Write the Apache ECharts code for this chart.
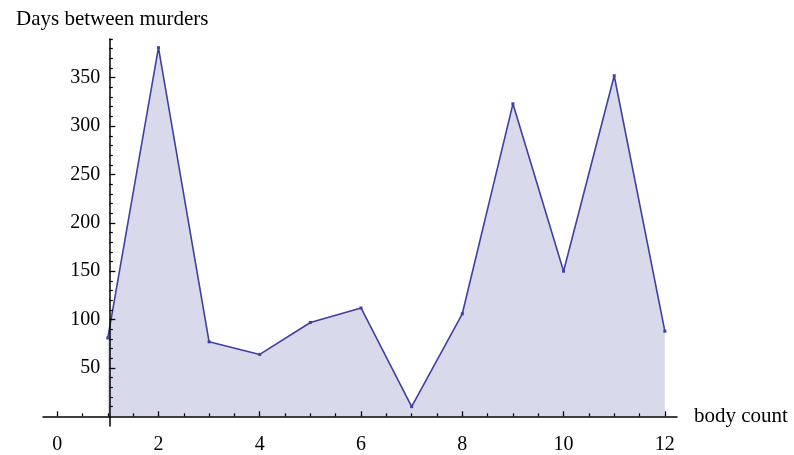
<!DOCTYPE html>
<html>
<head>
<meta charset="utf-8">
<script src="https://cdn.jsdelivr.net/npm/echarts@6/dist/echarts.min.js"></script>
<style>html,body{margin:0;padding:0;background:#fff}#c{width:794px;height:455px}</style>
</head>
<body>
<div id="c"></div>
<script>
var bodyCount = [1, 2, 3, 4, 5, 6, 7, 8, 9, 10, 11, 12];
var days = [81, 381, 77, 64, 97, 112, 10, 106, 323, 150, 352, 88];
var xMajorTicks = [0, 2, 4, 6, 8, 10, 12];
var xMinorTicks = [0.5, 1, 1.5, 2.5, 3, 3.5, 4.5, 5, 5.5, 6.5, 7, 7.5, 8.5, 9, 9.5, 10.5, 11, 11.5];
var yMajorTicks = [50, 100, 150, 200, 250, 300, 350];
var yMinorTicks = [10, 20, 30, 40, 60, 70, 80, 90, 110, 120, 130, 140, 160, 170, 180, 190, 210, 220, 230, 240, 260, 270, 280, 290, 310, 320, 330, 340, 360, 370, 380, 390];
var yTitle = 'Days between murders';
var xTitle = 'body count';

var FONT = 'Liberation Serif';
var chart = echarts.init(document.getElementById('c'), null, {renderer: 'canvas'});
var xMin = -0.28, xMax = 12.24, yMin = -10, yMax = 390;
var yOffset = -((1 - xMin) * (634 / (xMax - xMin))) - 1.5;
var lineStyle = {color: '#000', width: 1.5};
chart.setOption({
  animation: false,
  title: {text: yTitle, left: 11, top: 4, textStyle: {fontFamily: FONT, fontSize: 21, fontWeight: 'normal', color: '#000'}},
  grid: {left: 43, right: 117, top: 39, bottom: 22, containLabel: false},
  xAxis: [{
    type: 'value', min: xMin, max: xMax, z: 10,
    axisLine: {onZero: true, onZeroAxisIndex: 0, lineStyle: lineStyle},
    axisTick: {inside: true, length: 5, customValues: xMajorTicks, lineStyle: {color: '#000', width: 1.3}},
    axisLabel: {customValues: xMajorTicks, margin: 9, fontFamily: FONT, fontSize: 20, color: '#000'},
    splitLine: {show: false},
    name: xTitle, nameLocation: 'end', nameGap: 17,
    nameTextStyle: {fontFamily: FONT, fontSize: 21, color: '#000', verticalAlign: 'middle'}
  }, {
    type: 'value', min: xMin, max: xMax, position: 'bottom', z: 10,
    axisLine: {show: false, onZero: true, onZeroAxisIndex: 0},
    axisTick: {inside: true, length: 3, customValues: xMinorTicks, lineStyle: {color: '#000', width: 1.2}},
    axisLabel: {show: false},
    splitLine: {show: false}
  }],
  yAxis: [{
    type: 'value', min: yMin, max: yMax, position: 'left', offset: yOffset, z: 10,
    axisLine: {show: true, onZero: false, lineStyle: lineStyle},
    axisTick: {inside: true, length: 6, customValues: yMajorTicks, lineStyle: {color: '#000', width: 1.3}},
    axisLabel: {customValues: yMajorTicks, margin: 9, fontFamily: FONT, fontSize: 20, color: '#000'},
    splitLine: {show: false}
  }, {
    type: 'value', min: yMin, max: yMax, position: 'left', offset: yOffset, z: 10,
    axisLine: {show: false, onZero: false},
    axisTick: {inside: true, length: 3.5, customValues: yMinorTicks, lineStyle: {color: '#000', width: 1.2}},
    axisLabel: {show: false},
    splitLine: {show: false}
  }],
  series: [{
    type: 'line',
    xAxisIndex: 0, yAxisIndex: 0,
    data: bodyCount.map(function (b, i) { return [b, days[i]]; }),
    symbol: 'rect', symbolSize: 3, showSymbol: true,
    lineStyle: {color: '#4040a0', width: 1.6},
    itemStyle: {color: '#4040a0'},
    areaStyle: {color: '#d9d9ec', opacity: 1},
    z: 1
  }]
});
</script>
</body>
</html>
